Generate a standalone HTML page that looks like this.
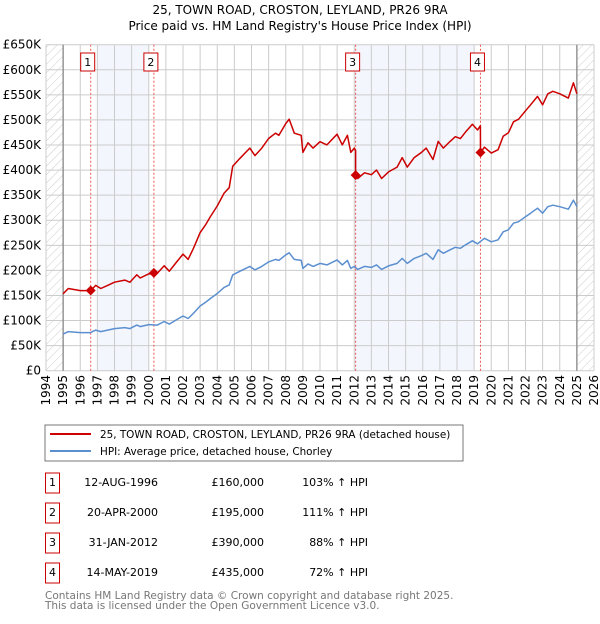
<!DOCTYPE html>
<html><head><meta charset="utf-8"><style>
body{margin:0;background:#fff;font-family:"DejaVu Sans","Liberation Sans",sans-serif;}
svg text{font-family:"DejaVu Sans","Liberation Sans",sans-serif;}
</style></head><body>
<svg id="c" width="600" height="620" xmlns="http://www.w3.org/2000/svg">
<defs><pattern id="hatch" width="6" height="6" patternUnits="userSpaceOnUse" patternTransform="rotate(45)"><line x1="0" y1="0" x2="0" y2="6" stroke="#ccc" stroke-width="1"/></pattern></defs>
<text x="300" y="14" text-anchor="middle" font-size="12">25, TOWN ROAD, CROSTON, LEYLAND, PR26 9RA</text>
<text x="300" y="30" text-anchor="middle" font-size="12">Price paid vs. HM Land Registry's House Price Index (HPI)</text>
<g id="plot"></g>
<rect x="45" y="425" width="418" height="36" fill="#fff" stroke="#777"/>
<line x1="50" y1="434" x2="91" y2="434" stroke="#cc0000" stroke-width="2"/>
<text x="100" y="438" font-size="10.4">25, TOWN ROAD, CROSTON, LEYLAND, PR26 9RA (detached house)</text>
<line x1="50" y1="451" x2="91" y2="451" stroke="#5b8fd0" stroke-width="2"/>
<text x="100" y="455" font-size="10.4">HPI: Average price, detached house, Chorley</text>
<g id="table"></g>
<text x="45" y="599" font-size="10.5" fill="#777">Contains HM Land Registry data © Crown copyright and database right 2025.</text>
<text x="45" y="609" font-size="10.5" fill="#777">This data is licensed under the Open Government Licence v3.0.</text>
</svg>
<script>
const hpiYears=[1995.0,1995.3,1996.0,1996.6,1996.9,1997.2,1997.6,1998.0,1998.6,1998.9,1999.3,1999.5,2000.0,2000.5,2000.9,2001.2,2001.6,2002.0,2002.3,2002.6,2003.0,2003.3,2003.6,2004.0,2004.4,2004.7,2004.9,2005.3,2005.9,2006.2,2006.6,2007.0,2007.4,2007.6,2008.0,2008.2,2008.5,2008.9,2009.0,2009.3,2009.6,2010.0,2010.4,2011.0,2011.3,2011.6,2011.8,2012.0,2012.2,2012.6,2013.0,2013.3,2013.6,2014.0,2014.5,2014.8,2015.1,2015.5,2015.9,2016.2,2016.6,2016.9,2017.2,2017.6,2017.9,2018.2,2018.5,2018.9,2019.2,2019.6,2020.0,2020.4,2020.7,2021.0,2021.3,2021.6,2022.0,2022.3,2022.7,2023.0,2023.3,2023.6,2024.0,2024.5,2024.8,2025.0];
const hpiValues=[73,78,76,76,81,78,81,84,86,84,91,88,92,91,98,93,101,109,104,114,129,136,144,154,166,171,191,198,208,201,208,217,222,220,231,235,222,220,204,213,208,214,211,221,211,220,204,208,202,208,206,211,202,209,214,224,214,224,229,234,222,241,234,241,246,244,251,259,253,264,257,261,277,281,294,297,307,314,324,314,327,330,327,322,340,327];
const saleLabels=["1","2","3","4"];
const saleYears=[1996.61,2000.30,2012.08,2019.37];
const saleDates=["12-AUG-1996","20-APR-2000","31-JAN-2012","14-MAY-2019"];
const salePrices=[160000,195000,390000,435000];
const salePct=["103%","111%","88%","72%"];
const yTicks=[0,50,100,150,200,250,300,350,400,450,500,550,600,650];
const xTicks=[1994,1995,1996,1997,1998,1999,2000,2001,2002,2003,2004,2005,2006,2007,2008,2009,2010,2011,2012,2013,2014,2015,2016,2017,2018,2019,2020,2021,2022,2023,2024,2025,2026];

const NS="http://www.w3.org/2000/svg";
const X0=46,X1=594,Y0=370.7,Y1=44.7;
const xs=y=>X0+(y-1994)/32*(X1-X0);
const ys=v=>Y0-v/650000*(Y0-Y1);
const plot=document.getElementById('plot');
function mk(tag,attrs,parent){const e=document.createElementNS(NS,tag);for(const k in attrs)e.setAttribute(k,attrs[k]);(parent||plot).appendChild(e);return e;}
function hpiAt(t){for(let i=0;i<hpiYears.length-1;i++){if(t<=hpiYears[i+1]){const f=(t-hpiYears[i])/(hpiYears[i+1]-hpiYears[i]);return hpiValues[i]+f*(hpiValues[i+1]-hpiValues[i]);}}return hpiValues[hpiValues.length-1];}

let e;
e=mk('rect',{x:xs(1997),y:Y1,width:xs(2000)-xs(1997),height:Y0-Y1,fill:'#f3f6fd'});


e=mk('rect',{x:xs(2012),y:Y1,width:xs(2019)-xs(2012),height:Y0-Y1,fill:'#f3f6fd'});


e=mk('rect',{x:xs(1994),y:Y1,width:xs(1995)-xs(1994),height:Y0-Y1,fill:'url(#hatch)'});


e=mk('rect',{x:xs(2025),y:Y1,width:xs(2026)-xs(2025),height:Y0-Y1,fill:'url(#hatch)'});


yTicks.forEach(v=>{
 e=mk('line',{x1:X0,x2:X1,y1:ys(v*1000),y2:ys(v*1000),stroke:'#ccc','stroke-width':1});
 
 
 e=mk('text',{x:41,y:ys(v*1000)+4,'text-anchor':'end','font-size':12});
 e.textContent=v===0?'£0':'£'+v+'K';
 
 
});
xTicks.forEach(yr=>{
 e=mk('line',{x1:xs(yr),x2:xs(yr),y1:Y1,y2:Y0,stroke:'#ccc','stroke-width':1});
 
 
 e=mk('text',{x:0,y:0,'font-size':12,'text-anchor':'end',transform:`translate(${xs(yr)+4},375) rotate(-90)`});
 e.textContent=yr;
 
 
});
[1995,2025].forEach(yr=>{
 e=mk('line',{x1:xs(yr),x2:xs(yr),y1:Y1,y2:Y0,stroke:'#888','stroke-width':1.3});
 
 
});
saleYears.forEach((sy,i)=>{
 e=mk('line',{x1:xs(sy),x2:xs(sy),y1:Y1,y2:Y0,stroke:'#ee5555','stroke-width':1,'stroke-dasharray':'2,2'});
 
 
});
let d='';
hpiYears.forEach((t,i)=>{d+=(i?'L':'M')+xs(t).toFixed(1)+','+ys(hpiValues[i]*1000).toFixed(1);});
e=mk('path',{d:d,fill:'none',stroke:'#5b8fd0','stroke-width':1.5,'stroke-linejoin':'round'});


function ratioAt(t){let k=0;for(let i=0;i<saleYears.length;i++)if(t>=saleYears[i])k=i;return salePrices[k]/(hpiAt(saleYears[k])*1000);}
let pts=[];
hpiYears.forEach((t,i)=>pts.push([t,hpiValues[i]*1000*ratioAt(t)]));
saleYears.forEach((sy,i)=>{if(i>0)pts.push([sy-0.001,hpiAt(sy)*1000*ratioAt(sy-0.001)]);pts.push([sy,salePrices[i]]);});
pts.sort((a,b)=>a[0]-b[0]);
d='';pts.forEach((p,i)=>{d+=(i?'L':'M')+xs(p[0]).toFixed(1)+','+ys(p[1]).toFixed(1);});
e=mk('path',{d:d,fill:'none',stroke:'#cc0000','stroke-width':1.5,'stroke-linejoin':'round'});


saleYears.forEach((sy,i)=>{
 const cx=xs(sy),cy=ys(salePrices[i]);
 e=mk('path',{d:`M${cx},${cy-5}L${cx+5},${cy}L${cx},${cy+5}L${cx-5},${cy}Z`,fill:'#cc0000'});
 
 
 e=mk('rect',{x:cx-10,y:53,width:14,height:18,fill:'#fff',stroke:'#cc0000','stroke-width':1});
 
 
 e=mk('text',{x:cx-3,y:66,'text-anchor':'middle','font-size':11});
 e.textContent=saleLabels[i];
 
 
});
const tb=document.getElementById('table');
saleYears.forEach((sy,i)=>{
 const yc=483+i*30;
 e=mk('rect',{x:45.5,y:yc-10,width:14,height:20,fill:'#fff',stroke:'#cc0000'},tb);
 
 
 e=mk('text',{x:52.5,y:yc+3,'text-anchor':'middle','font-size':11},tb);e.textContent=saleLabels[i];
 
 
 e=mk('text',{x:158,y:yc+3,'text-anchor':'end','font-size':11},tb);e.textContent=saleDates[i];
 
 
 e=mk('text',{x:264,y:yc+3,'text-anchor':'end','font-size':11},tb);e.textContent='£'+salePrices[i].toLocaleString('en-GB');
 
 
 e=mk('text',{x:368,y:yc+3,'text-anchor':'end','font-size':11},tb);e.textContent=salePct[i]+' ↑ HPI';
 
 
});
</script>
</body></html>
